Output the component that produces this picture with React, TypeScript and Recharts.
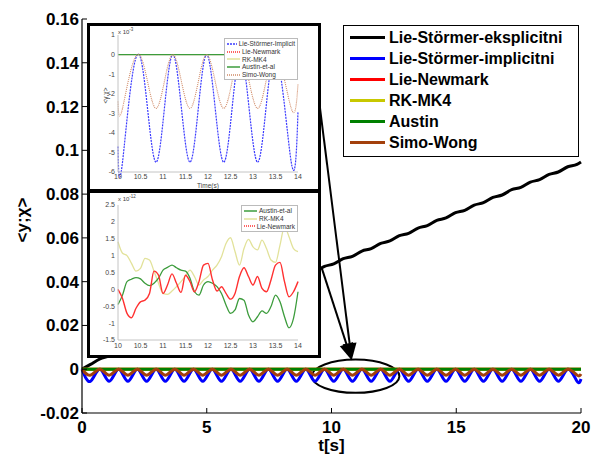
import React from 'react';
import { LineChart, Line, XAxis, YAxis, Legend, ReferenceLine, ReferenceArea } from 'recharts';

// ---- main plot (0..20 s) ----
// sample times at the peaks / troughs of the oscillating solutions
const mainT = [
  0, 0.34, 0.72, 1.09, 1.47, 1.84, 2.22, 2.59, 2.97, 3.34, 3.72, 4.09, 4.47, 4.84,
  5.22, 5.59, 5.97, 6.34, 6.72, 7.09, 7.47, 7.84, 8.22, 8.59, 8.97, 9.34, 9.72, 10.09,
  10.47, 10.84, 11.22, 11.59, 11.97, 12.34, 12.72, 13.09, 13.47, 13.84, 14.22, 14.59,
  14.97, 15.34, 15.72, 16.09, 16.47, 16.84, 17.22, 17.59, 17.97, 18.34, 18.72, 19.09,
  19.47, 19.84, 20,
];
const blackMain = [
  0, 0.0022, 0.0047, 0.0061, 0.0085, 0.0096, 0.012, 0.0131, 0.0155, 0.0166, 0.019, 0.0201,
  0.0225, 0.0236, 0.026, 0.0271, 0.0295, 0.0306, 0.033, 0.0341, 0.0365, 0.0376, 0.04,
  0.0411, 0.0435, 0.0446, 0.047, 0.0481, 0.0505, 0.0516, 0.054, 0.0551, 0.0575, 0.0586,
  0.061, 0.0621, 0.0645, 0.0656, 0.068, 0.0691, 0.0715, 0.0726, 0.075, 0.0761, 0.0785,
  0.0796, 0.082, 0.0831, 0.0855, 0.0866, 0.089, 0.0901, 0.0925, 0.0936, 0.0947,
];
const blueMain = [
  0, -0.0055, 0, -0.0055, 0, -0.0055, 0, -0.0055, 0, -0.0055, 0, -0.0055, 0, -0.0055,
  0, -0.0055, 0, -0.0055, 0, -0.0055, 0, -0.0055, 0, -0.0055, 0, -0.0055, 0, -0.0055,
  0, -0.0055, 0, -0.0055, 0, -0.0055, 0, -0.0055, 0, -0.0055, 0, -0.0055, 0, -0.0055,
  0, -0.0055, 0, -0.0055, 0, -0.0055, 0, -0.0055, 0, -0.0055, 0, -0.0055, -0.0045,
];
const brownMain = [
  0, -0.0027, 0, -0.0027, 0, -0.0027, 0, -0.0027, 0, -0.0027, 0, -0.0027, 0, -0.0027,
  0, -0.0027, 0, -0.0027, 0, -0.0027, 0, -0.0027, 0, -0.0027, 0, -0.0027, 0, -0.0027,
  0, -0.0027, 0, -0.0027, 0, -0.0027, 0, -0.0027, 0, -0.0027, 0, -0.0027, 0, -0.0027,
  0, -0.0027, 0, -0.0027, 0, -0.0027, 0, -0.0027, 0, -0.0027, 0, -0.0027, -0.0022,
];
// red / yellow / green are of order 1e-12 here, i.e. flat at zero
const flatT = [0, 20];
const flatY = [0, 0];

const mainXTicks = [0, 5, 10, 15, 20];
const mainYTicks = [-0.02, 0, 0.02, 0.04, 0.06, 0.08, 0.1, 0.12, 0.14, 0.16];

const mainSeries = [
  { key: 'black', name: 'Lie-Störmer-eksplicitni', color: '#000000' },
  { key: 'blue', name: 'Lie-Störmer-implicitni', color: '#0000ff' },
  { key: 'red', name: 'Lie-Newmark', color: '#ff0000' },
  { key: 'yellow', name: 'RK-MK4', color: '#c8c800' },
  { key: 'green', name: 'Austin', color: '#008000' },
  { key: 'brown', name: 'Simo-Wong', color: '#a3400c' },
];

// ---- upper inset (x 1e-3) ----
const upT = [10, 10.1, 10.47, 10.85, 11.22, 11.6, 11.97, 12.35, 12.72, 13.1, 13.47, 13.85, 14];
const upBlue = [-4.7, -5.5, 0, -5.5, 0, -5.5, 0, -5.5, 0, -5.5, 0, -5.5, -2.9];
const upBrown = [-2.4, -2.75, 0, -2.75, 0, -2.75, 0, -2.75, 0, -2.75, 0, -2.75, -1.5];
const upFlatT = [10, 14];
const upFlatY = [0, 0];
const upXTicks = [10, 10.5, 11, 11.5, 12, 12.5, 13, 13.5, 14];
const upYTicks = [-6, -5, -4, -3, -2, -1, 0, 1];

// ---- lower inset (x 1e-12) ----
const lowT = [
  10, 10.1, 10.2, 10.3, 10.4, 10.5, 10.6, 10.7, 10.8, 10.9, 11, 11.1, 11.2, 11.3, 11.4,
  11.5, 11.6, 11.7, 11.8, 11.9, 12, 12.1, 12.2, 12.3, 12.4, 12.5, 12.6, 12.7, 12.8, 12.9,
  13, 13.1, 13.2, 13.3, 13.4, 13.5, 13.6, 13.7, 13.8, 13.9, 14,
];
const lowGreen = [
  -0.45, -0.17, 0.23, 0.3, 0.35, 0.31, 0.18, 0.11, 0.18, 0.33, 0.57, 0.65, 0.72, 0.64, 0.57,
  0.54, 0.33, -0.07, -0.17, 0.13, 0.23, 0.18, 0.08, -0.12, -0.46, -0.71, -0.61, -0.27, -0.32,
  -0.76, -0.96, -0.81, -0.64, -0.71, -0.51, -0.17, -0.37, -0.81, -1.14, -0.86, -0.07,
];
const lowYellow = [
  1.41, 1.07, 1.0, 0.77, 0.54, 0.62, 0.92, 0.87, 0.54, 0.18, -0.12, -0.15, -0.05, 0.08, 0.23,
  0.4, 0.57, 0.38, 0.13, 0.28, 0.38, 0.57, 0.72, 0.97, 1.36, 1.53, 1.12, 0.72, 1.21, 1.48,
  1.26, 1.17, 1.46, 1.21, 0.87, 0.8, 1.31, 1.86, 1.56, 1.21, 1.12,
];
const lowRed = [
  0.0, -0.27, -0.71, -0.84, -0.56, -0.37, -0.32, -0.12, 0.54, 0.42, -0.12, 0.13, 0.46, 0.18,
  -0.09, 0.42, 0.23, -0.07, 0.23, 0.72, 0.77, 0.28, -0.05, 0.08, -0.12, -0.29, -0.12, 0.38,
  0.64, 0.38, 0.13, 0.38, 0.03, -0.07, 0.28, 0.72, 0.8, 0.23, -0.22, -0.07, 0.23,
];
const lowYTicks = [-1.5, -1, -0.5, 0, 0.5, 1, 1.5, 2, 2.5];

const upLegend = [
  { name: 'Lie-Störmer-Implicit', color: '#3a3aff', dash: '2 1' },
  { name: 'Lie-Newmark', color: '#ff3030', dash: '1 1' },
  { name: 'RK-MK4', color: '#e2e29a', dash: '' },
  { name: 'Austin-et-al', color: '#3c9c3c', dash: '' },
  { name: 'Simo-Wong', color: '#d08a66', dash: '1 1' },
];
const lowLegend = [
  { name: 'Austin-et-al', color: '#3c9c3c', dash: '' },
  { name: 'RK-MK4', color: '#e2e29a', dash: '' },
  { name: 'Lie-Newmark', color: '#ff3030', dash: '1 1' },
];

const mainRows = mainT.map((t, i) => ({ t, black: blackMain[i], blue: blueMain[i], brown: brownMain[i] }));
const flatRows = flatT.map((t, i) => ({ t, v: flatY[i] }));
const upRows = upT.map((t, i) => ({ t, blue: upBlue[i], brown: upBrown[i] }));
const upFlatRows = upFlatT.map((t, i) => ({ t, v: upFlatY[i] }));
const lowRows = lowT.map((t, i) => ({ t, green: lowGreen[i], yellow: lowYellow[i], red: lowRed[i] }));

const FONT = 'Arial, "Liberation Sans", sans-serif';
const bold = { fontFamily: FONT, fontWeight: 700, fontSize: 17, fill: '#000' };

const MainYTick = ({ x, y, payload }: any) => (
  <g>
    <text x={x} y={y + 6} textAnchor="end" style={bold}>{payload.value}</text>
    <line x1={x + 3} x2={x + 8} y1={y} y2={y} stroke="#000" />
  </g>
);
const MainXTick = ({ x, y, payload }: any) => (
  <g>
    <text x={x} y={y + 12} textAnchor="middle" style={bold}>{payload.value}</text>
    <line x1={x} x2={x} y1={y - 8} y2={y - 13} stroke="#000" />
  </g>
);
const TopTick = ({ x, y }: any) => <line x1={x} x2={x} y1={y} y2={y + 5} stroke="#000" />;
const RightTick = ({ x, y }: any) => <line x1={x} x2={x - 5} y1={y} y2={y} stroke="#000" />;

const XTitle = ({ viewBox }: any) => (
  <text x={viewBox.x + viewBox.width / 2} y={451} textAnchor="middle" style={bold}>t[s]</text>
);
const YTitle = ({ viewBox }: any) => {
  const cy = viewBox.y + viewBox.height / 2 + 4;
  return (
    <text x={22} y={cy} transform={`rotate(-90, 22, ${cy})`} textAnchor="middle" dominantBaseline="central" style={bold}>
      {'<y;χ>'}
    </text>
  );
};

const Arrow = ({ x1, y1, x2, y2 }: any) => {
  const a = Math.atan2(y2 - y1, x2 - x1);
  const L = 17;
  const W = 7;
  const bx = x2 - L * Math.cos(a);
  const by = y2 - L * Math.sin(a);
  const pts = `${x2},${y2} ${bx + W * Math.sin(a)},${by - W * Math.cos(a)} ${bx - W * Math.sin(a)},${by + W * Math.cos(a)}`;
  return (
    <g>
      <line x1={x1} y1={y1} x2={bx} y2={by} stroke="#000" strokeWidth={2} />
      <polygon points={pts} fill="#000" />
    </g>
  );
};

const Ellipse = ({ x, y, width, height }: any) => (
  <ellipse cx={x + width / 2} cy={y + height / 2} rx={width / 2} ry={height / 2} fill="none" stroke="#000" strokeWidth={2} />
);

const MainLegend = () => (
  <div style={{ width: 236, height: 132, boxSizing: 'border-box', border: '1.5px solid #000', background: '#fff', padding: '1px 0 0 6px' }}>
    {mainSeries.map((s) => (
      <div key={s.key} style={{ display: 'flex', alignItems: 'center', height: 21 }}>
        <span style={{ display: 'inline-block', width: 35, height: 3, background: s.color, marginRight: 4 }} />
        <span style={{ fontFamily: FONT, fontWeight: 700, fontSize: 16, color: '#000', whiteSpace: 'nowrap' }}>{s.name}</span>
      </div>
    ))}
  </div>
);

const SmallLegend = ({ items, width }: any) => (
  <div style={{ width, boxSizing: 'border-box', border: '1px solid #bbb', background: '#fff', padding: '1px 2px' }}>
    {items.map((s: any) => (
      <div key={s.name} style={{ display: 'flex', alignItems: 'center', height: 7.7 }}>
        <svg width={13} height={4} style={{ marginRight: 2 }}>
          <line x1={0} x2={13} y1={2} y2={2} stroke={s.color} strokeWidth={1.5} strokeDasharray={s.dash} />
        </svg>
        <span style={{ fontFamily: FONT, fontSize: 6.5, color: '#333', whiteSpace: 'nowrap' }}>{s.name}</span>
      </div>
    ))}
  </div>
);

const gray = '#c4c4c4';
const insetTick = { fontSize: 7, fill: '#444', fontFamily: FONT };
const insetFrame = (top: number, height: number): React.CSSProperties => ({
  position: 'absolute', left: 87, top, width: 234, height, boxSizing: 'border-box',
  border: '3px solid #000', background: '#fff',
});
const expo = (exp: string) => (
  <span style={{ position: 'absolute', left: 28, top: 1, fontFamily: FONT, fontSize: 6, color: '#444' }}>
    x 10<sup style={{ fontSize: 4.5 }}>{exp}</sup>
  </span>
);

function UpperInset() {
  return (
    <div style={insetFrame(23, 169)}>
      <LineChart width={228} height={163} data={upRows} margin={{ top: 9, right: 20, bottom: 0, left: 0 }}>
        <XAxis dataKey="t" type="number" domain={[10, 14]} ticks={upXTicks} interval={0} tick={insetTick}
          tickLine={false} tickSize={0} tickMargin={2} height={17} stroke={gray}
          label={{ value: 'Time(s)', position: 'insideBottom', offset: 1, style: { fontSize: 6.5, fill: '#444', fontFamily: FONT } }} />
        <YAxis type="number" domain={[-6, 1]} ticks={upYTicks} interval={0} tick={insetTick}
          tickLine={false} tickSize={0} tickMargin={3} width={28} stroke={gray}
          label={{ value: '<γ,χ>', angle: -90, position: 'insideLeft', offset: 16, style: { fontSize: 6.5, fill: '#444', fontFamily: FONT } }} />
        <XAxis xAxisId="top" orientation="top" type="number" domain={[10, 14]} tick={false} height={0} stroke={gray} />
        <YAxis yAxisId="right" orientation="right" type="number" domain={[-6, 1]} tick={false} width={0} stroke={gray} />
        <Line dataKey="blue" type="natural" stroke="#3a3aff" strokeWidth={1.2} strokeDasharray="2 1" dot={false} isAnimationActive={false} />
        <Line data={upFlatRows} dataKey="v" stroke="#ff3030" strokeWidth={1} dot={false} isAnimationActive={false} />
        <Line data={upFlatRows} dataKey="v" stroke="#e2e29a" strokeWidth={1} dot={false} isAnimationActive={false} />
        <Line data={upFlatRows} dataKey="v" stroke="#3c9c3c" strokeWidth={1.2} dot={false} isAnimationActive={false} />
        <Line dataKey="brown" type="natural" stroke="#d08a66" strokeWidth={1.1} strokeDasharray="1 1" dot={false} isAnimationActive={false} />
        <Legend layout="horizontal" verticalAlign="middle" align="center"
          wrapperStyle={{ left: 134, top: 12, width: 74 }}
          content={() => <SmallLegend items={upLegend} width={74} />} />
      </LineChart>
      {expo('-3')}
    </div>
  );
}

function LowerInset() {
  return (
    <div style={insetFrame(190, 168)}>
      <LineChart width={228} height={162} data={lowRows} margin={{ top: 12, right: 20, bottom: 0, left: 0 }}>
        <XAxis dataKey="t" type="number" domain={[10, 14]} ticks={upXTicks} interval={0} tick={insetTick}
          tickLine={false} tickSize={0} tickMargin={3} height={15} stroke={gray} />
        <YAxis type="number" domain={[-1.5, 2.5]} ticks={lowYTicks} interval={0} tick={insetTick}
          tickLine={false} tickSize={0} tickMargin={3} width={28} stroke={gray} />
        <XAxis xAxisId="top" orientation="top" type="number" domain={[10, 14]} tick={false} height={0} stroke={gray} />
        <YAxis yAxisId="right" orientation="right" type="number" domain={[-1.5, 2.5]} tick={false} width={0} stroke={gray} />
        <Line dataKey="yellow" type="monotone" stroke="#e2e29a" strokeWidth={1.3} dot={false} isAnimationActive={false} />
        <Line dataKey="green" type="monotone" stroke="#3c9c3c" strokeWidth={1.3} dot={false} isAnimationActive={false} />
        <Line dataKey="red" type="monotone" stroke="#ff3030" strokeWidth={1.4} dot={false} isAnimationActive={false} />
        <Legend layout="horizontal" verticalAlign="middle" align="center"
          wrapperStyle={{ left: 151, top: 12, width: 57 }}
          content={() => <SmallLegend items={lowLegend} width={57} />} />
      </LineChart>
      {expo('-12')}
    </div>
  );
}

export default function App() {
  return (
    <div style={{ position: 'absolute', left: 0, top: 0, width: 599, height: 455, background: '#fff', overflow: 'hidden' }}>
      <LineChart width={599} height={455} data={mainRows} margin={{ top: 19, right: 18, bottom: 0, left: 0 }}>
        <XAxis dataKey="t" type="number" domain={[0, 20]} ticks={mainXTicks} interval={0}
          tick={<MainXTick />} tickLine={false} tickSize={0} tickMargin={8} height={42} stroke="#000" strokeWidth={1.2}
          label={<XTitle />} />
        <YAxis type="number" domain={[-0.02, 0.16]} ticks={mainYTicks} interval={0}
          tick={<MainYTick />} tickLine={false} tickSize={0} tickMargin={3} width={82} stroke="#000" strokeWidth={1.2}
          label={<YTitle />} />
        <XAxis xAxisId="top" orientation="top" type="number" domain={[0, 20]} ticks={mainXTicks}
          tick={<TopTick />} tickLine={false} tickSize={0} tickMargin={0} height={0} stroke="#000" strokeWidth={1.2} />
        <YAxis yAxisId="right" orientation="right" type="number" domain={[-0.02, 0.16]} ticks={mainYTicks}
          tick={<RightTick />} tickLine={false} tickSize={0} tickMargin={0} width={0} stroke="#000" strokeWidth={1.2} />
        <Line dataKey="black" name={mainSeries[0].name} type="monotone" stroke="#000" strokeWidth={3} dot={false} isAnimationActive={false} />
        <Line dataKey="blue" name={mainSeries[1].name} type="natural" stroke="#0000ff" strokeWidth={3} dot={false} isAnimationActive={false} />
        <Line data={flatRows} dataKey="v" name={mainSeries[2].name} stroke="#ff0000" strokeWidth={3} dot={false} isAnimationActive={false} />
        <Line data={flatRows} dataKey="v" name={mainSeries[3].name} stroke="#c8c800" strokeWidth={3} dot={false} isAnimationActive={false} />
        <Line data={flatRows} dataKey="v" name={mainSeries[4].name} stroke="#008000" strokeWidth={3} dot={false} isAnimationActive={false} />
        <Line dataKey="brown" name={mainSeries[5].name} type="natural" stroke="#a3400c" strokeWidth={3} dot={false} isAnimationActive={false} />
        <ReferenceArea x1={9.21} x2={12.72} y1={-0.0108} y2={0.0044} shape={<Ellipse />} />
        <ReferenceLine segment={[{ x: 9.54, y: 0.1193 }, { x: 10.81, y: 0.0041 }]} shape={<Arrow />} />
        <ReferenceLine segment={[{ x: 9.61, y: 0.0462 }, { x: 10.81, y: 0.0041 }]} shape={<Arrow />} />
        <Legend layout="horizontal" verticalAlign="middle" align="center"
          wrapperStyle={{ left: 343, top: 25, width: 236 }} content={() => <MainLegend />} />
      </LineChart>
      <UpperInset />
      <LowerInset />
    </div>
  );
}
